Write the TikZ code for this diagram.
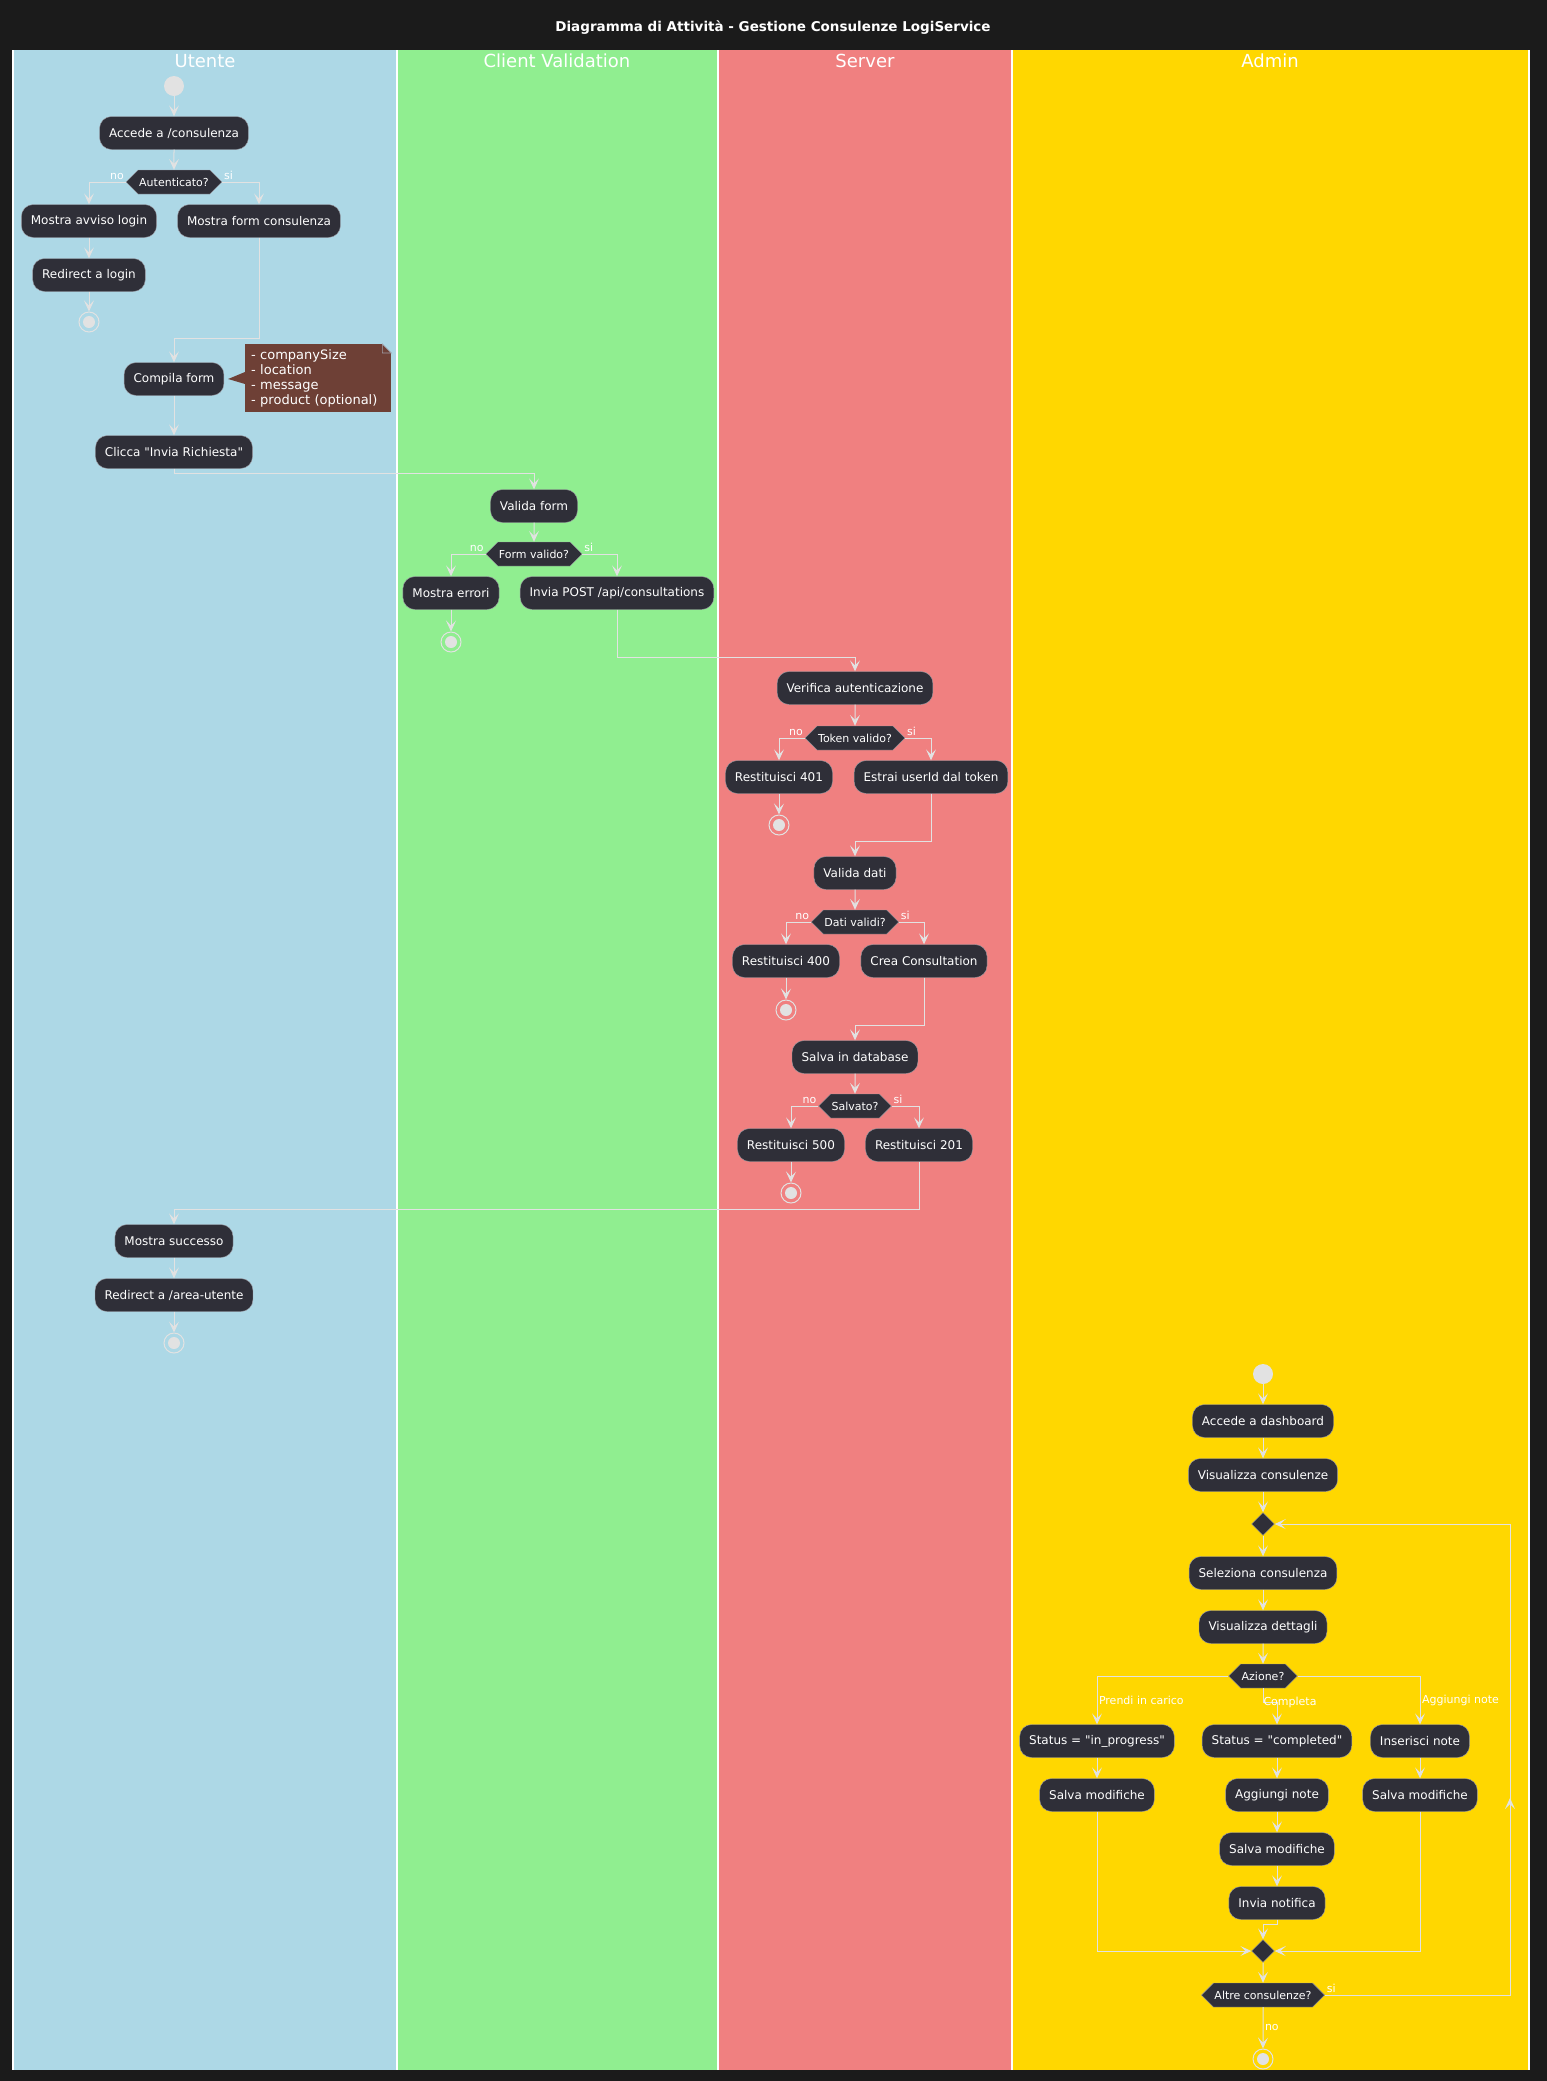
\documentclass[tikz,border=0pt]{standalone}
\usepackage{fontspec}
\setmainfont{DejaVu Sans}[Ligatures=TeXOff]
\usetikzlibrary{arrows.meta,shapes.symbols,shapes.geometric}
\definecolor{pagebg}{HTML}{1B1B1B}
\definecolor{laneuser}{HTML}{ADD8E6}
\definecolor{laneclient}{HTML}{90EE90}
\definecolor{laneserver}{HTML}{F08080}
\definecolor{laneadmin}{HTML}{FFD700}
\definecolor{actfill}{HTML}{2F2F38}
\definecolor{actedge}{HTML}{A0A0A8}
\definecolor{flowline}{HTML}{E2E2E2}
\definecolor{notefill}{HTML}{6E4036}
\tikzset{flow/.style={-{Stealth[length=11pt,width=10pt,inset=5pt]},draw=flowline,line width=1pt},
 lbl/.style={text=white,font=\fontsize{11}{13}\selectfont,inner sep=1.5pt},
 lanetitle/.style={text=white,font=\fontsize{18}{22}\selectfont}}

\begin{document}
\begin{tikzpicture}[x=1pt,y=-1pt,
 act/.style={draw=actedge,fill=actfill,text=white,rounded corners=12pt,minimum height=33pt,inner xsep=9.5pt,font=\fontsize{12}{14}\selectfont},
 decide/.style={signal,signal to=east and west,signal pointer angle=90,draw=actedge,fill=actfill,text=white,minimum height=24pt,inner xsep=1pt,inner ysep=0pt,font=\fontsize{11}{13}\selectfont},
 merge/.style={diamond,draw=actedge,fill=actfill,minimum size=23pt,inner sep=0pt},
 startdot/.style={circle,fill=flowline,minimum size=20pt,inner sep=0pt},
 enddot/.style={circle,draw=flowline,line width=1pt,minimum size=20pt,inner sep=0pt,
  path picture={\fill[flowline] (path picture bounding box.center) circle (6pt);}},
 note/.style={fill=notefill,text=white,align=left,text width=134pt,inner xsep=6pt,inner ysep=5pt,font=\fontsize{13}{15}\selectfont}]
\fill[pagebg] (0,0) rectangle (1547,2081);
\fill[laneuser] (13,50) rectangle (397,2070);
\fill[laneclient] (397,50) rectangle (718,2070);
\fill[laneserver] (718,50) rectangle (1012,2070);
\fill[laneadmin] (1012,50) rectangle (1529,2070);
\foreach \lx in {13,397,718,1012,1529}
 \draw[white,line width=1.2pt] (\lx,50) -- (\lx,2070);
\node[text=white,font=\bfseries\fontsize{13.5}{16}\selectfont] (ttl) at (773,28) {Diagramma di Attività - Gestione Consulenze LogiService};
\node[lanetitle] (tu) at (205,61) {Utente};
\node[lanetitle] (tc) at (557,61) {Client Validation};
\node[lanetitle] (ts) at (865,61) {Server};
\node[lanetitle] (ta) at (1270,61) {Admin};

\node[startdot] (s1) at (174,86) {};
\node[act] (u1) at (174,133) {Accede a /consulenza};
\node[decide] (ud1) at (174,182) {Autenticato?};
\node[act] (u2) at (89,221) {Mostra avviso login};
\node[act] (u3) at (259,221) {Mostra form consulenza};
\node[act] (u4) at (89,275) {Redirect a login};
\node[enddot] (ue1) at (89,322) {};
\node[act] (u5) at (174,379) {Compila form};
\node[note,anchor=north west] (nt) at (245,344) {- companySize\\- location\\- message\\- product (optional)};
\node[act] (u6) at (174,452) {Clicca "Invia Richiesta"};
\node[act] (c1) at (534,506) {Valida form};
\node[decide] (cd1) at (534,554) {Form valido?};
\node[act] (c2) at (451,593) {Mostra errori};
\node[act] (c3) at (617,593) {Invia POST /api/consultations};
\node[enddot] (ce1) at (451,642) {};
\node[act] (v1) at (855,688) {Verifica autenticazione};
\node[decide] (vd1) at (855,738) {Token valido?};
\node[act] (v2) at (779,777) {Restituisci 401};
\node[act] (v3) at (931,777) {Estrai userId dal token};
\node[enddot] (ve1) at (779,825) {};
\node[act] (v4) at (855,873) {Valida dati};
\node[decide] (vd2) at (855,922) {Dati validi?};
\node[act] (v5) at (786,961) {Restituisci 400};
\node[act] (v6) at (924,961) {Crea Consultation};
\node[enddot] (ve2) at (786,1010) {};
\node[act] (v7) at (855,1057) {Salva in database};
\node[decide] (vd3) at (855,1106) {Salvato?};
\node[act] (v8) at (791,1145) {Restituisci 500};
\node[act] (v9) at (919,1145) {Restituisci 201};
\node[enddot] (ve3) at (791,1193) {};
\node[act] (u7) at (174,1241) {Mostra successo};
\node[act] (u8) at (174,1295) {Redirect a /area-utente};
\node[enddot] (ue2) at (174,1343) {};

\node[startdot] (s2) at (1263,1374) {};
\node[act] (a1) at (1263,1421) {Accede a dashboard};
\node[act] (a2) at (1263,1475) {Visualizza consulenze};
\node[merge] (m1) at (1263,1524) {};
\node[act] (a3) at (1263,1573) {Seleziona consulenza};
\node[act] (a4) at (1263,1627) {Visualizza dettagli};
\node[decide] (ad1) at (1263,1676) {Azione?};
\node[act] (a5) at (1097,1741) {Status = "in\_progress"};
\node[act] (a6) at (1277,1741) {Status = "completed"};
\node[act] (a7) at (1420,1741) {Inserisci note};
\node[act] (a8) at (1097,1795) {Salva modifiche};
\node[act] (a9) at (1277,1795) {Aggiungi note};
\node[act] (a10) at (1420,1795) {Salva modifiche};
\node[act] (a11) at (1277,1849) {Salva modifiche};
\node[act] (a12) at (1277,1903) {Invia notifica};
\node[merge] (m2) at (1263,1951) {};
\node[decide] (ad2) at (1263,1995) {Altre consulenze?};
\node[enddot] (ae) at (1263,2059) {};

\fill[notefill] ([yshift=6pt]nt.west) -- ([xshift=4pt]u5.east) -- ([yshift=-6pt]nt.west) -- cycle;
\fill[laneuser] (nt.north east) -- ++(-9,0) -- ++(9,9) -- cycle;
\draw[actedge,line width=0.6pt] (nt.north east) ++(-9,0) -- ++(0,9) -- ++(9,0) -- cycle;

\coordinate (j1) at (259,338);
\coordinate (j2) at (174,473);
\coordinate (j3) at (617,657);
\coordinate (j4) at (931,841);
\coordinate (j5) at (924,1025);
\coordinate (j6) at (919,1209);
\coordinate (lp) at (1510,1524);
\coordinate (lpm) at (1510,1798);

\draw[flow] (s1) -- (u1);
\draw[flow] (u1) -- (ud1);
\draw[flow] (ud1.west) node[lbl,anchor=south east] {no} -| (u2.north);
\draw[flow] (ud1.east) node[lbl,anchor=south west] {si} -| (u3.north);
\draw[flow] (u2) -- (u4);
\draw[flow] (u4) -- (ue1);
\draw[flow] (u3.south) -- (j1) -| (u5.north);
\draw[flow] (u5) -- (u6);
\draw[flow] (u6.south) -- (j2) -| (c1.north);
\draw[flow] (c1) -- (cd1);
\draw[flow] (cd1.west) node[lbl,anchor=south east] {no} -| (c2.north);
\draw[flow] (cd1.east) node[lbl,anchor=south west] {si} -| (c3.north);
\draw[flow] (c2) -- (ce1);
\draw[flow] (c3.south) -- (j3) -| (v1.north);
\draw[flow] (v1) -- (vd1);
\draw[flow] (vd1.west) node[lbl,anchor=south east] {no} -| (v2.north);
\draw[flow] (vd1.east) node[lbl,anchor=south west] {si} -| (v3.north);
\draw[flow] (v2) -- (ve1);
\draw[flow] (v3.south) -- (j4) -| (v4.north);
\draw[flow] (v4) -- (vd2);
\draw[flow] (vd2.west) node[lbl,anchor=south east] {no} -| (v5.north);
\draw[flow] (vd2.east) node[lbl,anchor=south west] {si} -| (v6.north);
\draw[flow] (v5) -- (ve2);
\draw[flow] (v6.south) -- (j5) -| (v7.north);
\draw[flow] (v7) -- (vd3);
\draw[flow] (vd3.west) node[lbl,anchor=south east] {no} -| (v8.north);
\draw[flow] (vd3.east) node[lbl,anchor=south west] {si} -| (v9.north);
\draw[flow] (v8) -- (ve3);
\draw[flow] (v9.south) -- (j6) -| (u7.north);
\draw[flow] (u7) -- (u8);
\draw[flow] (u8) -- (ue2);

\draw[flow] (s2) -- (a1);
\draw[flow] (a1) -- (a2);
\draw[flow] (a2) -- (m1);
\draw[flow] (m1) -- (a3);
\draw[flow] (a3) -- (a4);
\draw[flow] (a4) -- (ad1);
\draw[flow] (ad1.west) -| (a5.north) node[pos=0.75,lbl,anchor=west] {Prendi in carico};
\draw[flow] (ad1.south) -- ++(0,14) node[lbl,anchor=west,inner xsep=0pt] {Completa} -| (a6.north);
\draw[flow] (ad1.east) -| (a7.north) node[pos=0.75,lbl,anchor=west] {Aggiungi note};
\draw[flow] (a5) -- (a8);
\draw[flow] (a6) -- (a9);
\draw[flow] (a9) -- (a11);
\draw[flow] (a11) -- (a12);
\draw[flow] (a7) -- (a10);
\draw[flow] (a8.south) |- (m2.west);
\draw[flow] (a10.south) |- (m2.east);
\draw[flow] (a12.south) -- ++(0,5) -| (m2.north);
\draw[flow] (m2) -- (ad2);
\draw[flow] (ad2.east) node[lbl,anchor=south west] {si} -| (lp) -- (m1.east);
\draw[flow] (ad2.east -| lp) -- (lpm);
\draw[flow] (ad2) -- (ae) node[midway,lbl,anchor=west] {no};
\end{tikzpicture}
\end{document}
